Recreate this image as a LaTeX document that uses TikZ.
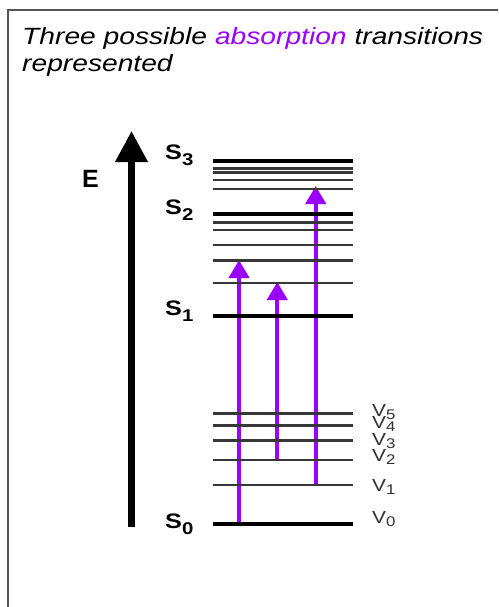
\documentclass[tikz,border=0pt]{standalone}
\usepackage{fontspec}
\usepackage{graphicx}
\setmainfont{Liberation Sans}
\usetikzlibrary{arrows.meta}
\definecolor{absviolet}{RGB}{153,0,255}
\definecolor{framegray}{RGB}{85,85,85}
\definecolor{levelgray}{RGB}{55,55,55}
\definecolor{vgray}{RGB}{50,50,50}
\tikzset{
  thinlevel/.style={levelgray, line width=2.6pt},
  thicklevel/.style={black, line width=4pt},
  transition/.style={absviolet, line width=4pt, -{Triangle[length=18pt,width=20pt]}},
  energyaxis/.style={black, line width=7pt, -{Triangle[length=31pt,width=31pt]}},
  slabel/.style={anchor=base west, inner sep=0pt, font=\bfseries\fontsize{21}{21}\selectfont},
  vlabel/.style={anchor=base west, inner sep=0pt, font=\fontsize{17.5}{17.5}\selectfont, text=vgray},
  titletext/.style={anchor=base west, inner sep=0pt, font=\itshape\fontsize{23.5}{23.5}\selectfont}
}
\newcommand{\hstretch}[1]{\scalebox{1.2}[1]{#1}}
\newcommand{\ssub}[1]{\raisebox{-6.5pt}{\fontsize{17}{17}\selectfont #1}}
\newcommand{\vsub}[1]{\raisebox{-3pt}{\fontsize{14}{14}\selectfont #1}}
\begin{document}
\begin{tikzpicture}[x=1pt,y=-1pt]
\useasboundingbox (0,0) rectangle (498,607);
\clip (0,0) rectangle (498,607);
% frame
\draw[framegray, line width=2pt] (7.5,10.5) rectangle (540,650);
% title
\node[titletext] (t1) at (22,45) {\hstretch{Three possible \textcolor{absviolet}{absorption} transitions}};
\node[titletext] (t2) at (22,72) {\hstretch{represented}};
% energy axis
\coordinate (ebot) at (131.5,527);
\coordinate (etop) at (131.5,131);
\draw[energyaxis] (ebot) -- (etop);
\node[anchor=base west, inner sep=0pt, font=\bfseries\fontsize{25}{25}\selectfont] (E) at (82,187) {E};
% transitions
\coordinate (a1s) at (239,524);   \coordinate (a1e) at (239,260);
\coordinate (a2s) at (277.3,460); \coordinate (a2e) at (277.3,282);
\coordinate (a3s) at (315.7,485); \coordinate (a3e) at (315.7,186);
\draw[transition] (a1s) -- (a1e);
\draw[transition] (a2s) -- (a2e);
\draw[transition] (a3s) -- (a3e);
% levels
\foreach \y in {168.3,172.7,180,189,222.7,230,245,260.7,283,413.3,425.7,440.7,460,485}
  \draw[thinlevel] (213,\y) -- (353,\y);
\foreach \y in {161,213.7,315.7,524}
  \draw[thicklevel] (213,\y) -- (353,\y);
% S labels
\node[slabel] (S3) at (165,159) {\hstretch{S\ssub{3}}};
\node[slabel] (S2) at (165,214) {\hstretch{S\ssub{2}}};
\node[slabel] (S1) at (165,315) {\hstretch{S\ssub{1}}};
\node[slabel] (S0) at (165,528) {\hstretch{S\ssub{0}}};
% V labels
\node[vlabel] (V5) at (372,416.7) {\hstretch{V\vsub{5}}};
\node[vlabel] (V4) at (372,428.3) {\hstretch{V\vsub{4}}};
\node[vlabel] (V3) at (372,445) {\hstretch{V\vsub{3}}};
\node[vlabel] (V2) at (372,461.7) {\hstretch{V\vsub{2}}};
\node[vlabel] (V1) at (372,491.7) {\hstretch{V\vsub{1}}};
\node[vlabel] (V0) at (372,523.3) {\hstretch{V\vsub{0}}};
\end{tikzpicture}
\end{document}
